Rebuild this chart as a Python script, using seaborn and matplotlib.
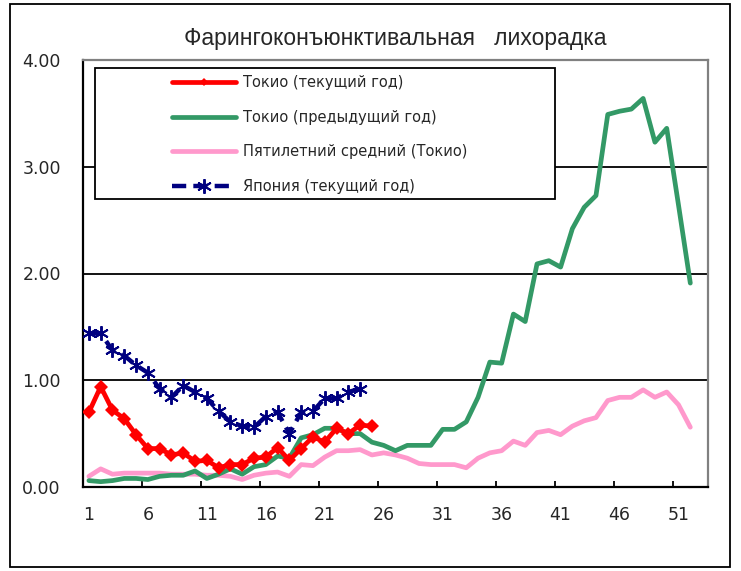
import numpy as np
import pandas as pd
import seaborn as sns
import matplotlib.pyplot as plt
from matplotlib.patches import Rectangle

# weekly values per sentinel site
weeks_all = list(range(1, 53))
tokyo_now = [0.70, 0.94, 0.72, 0.64, 0.49, 0.36, 0.36, 0.30, 0.32, 0.24,
             0.25, 0.18, 0.21, 0.21, 0.27, 0.28, 0.37, 0.25, 0.36, 0.47,
             0.42, 0.55, 0.50, 0.58, 0.57]
tokyo_prev = [0.06, 0.05, 0.06, 0.08, 0.08, 0.07, 0.10, 0.11, 0.11, 0.15,
              0.08, 0.12, 0.17, 0.12, 0.19, 0.21, 0.29, 0.27, 0.46, 0.49,
              0.55, 0.55, 0.50, 0.50, 0.42, 0.39, 0.34, 0.39, 0.39, 0.39,
              0.54, 0.54, 0.61, 0.84, 1.17, 1.16, 1.62, 1.55, 2.09, 2.12,
              2.06, 2.42, 2.62, 2.73, 3.49, 3.52, 3.54, 3.64, 3.23, 3.36,
              2.64, 1.91]
five_year = [0.10, 0.17, 0.12, 0.13, 0.13, 0.13, 0.13, 0.12, 0.12, 0.12,
             0.11, 0.11, 0.10, 0.07, 0.11, 0.13, 0.14, 0.10, 0.21, 0.20,
             0.28, 0.34, 0.34, 0.35, 0.30, 0.32, 0.30, 0.27, 0.22, 0.21,
             0.21, 0.21, 0.18, 0.27, 0.32, 0.34, 0.43, 0.39, 0.51, 0.53,
             0.49, 0.57, 0.62, 0.65, 0.81, 0.84, 0.84, 0.91, 0.84, 0.89,
             0.77, 0.56]
japan_now = [1.44, 1.44, 1.28, 1.23, 1.14, 1.07, 0.92, 0.84, 0.95, 0.89,
             0.83, 0.71, 0.61, 0.57, 0.56, 0.66, 0.70, 0.50, 0.70, 0.71,
             0.83, 0.83, 0.89, 0.92]

labels = ['Токио (текущий год)', 'Токио (предыдущий год)',
          'Пятилетний средний (Токио)', 'Япония (текущий год)']
x_labels = [str(w) for w in range(1, 52, 5)]

sns.set_style('white')
plt.rcParams['font.family'] = ['DejaVu Sans']

fig = plt.figure(figsize=(7.41, 5.71), dpi=100)
ax = fig.add_axes([83 / 741, 84 / 571, 625 / 741, 427 / 571])

# outer chart border
fig.patches.append(Rectangle((10 / 741, 4 / 571), 720 / 741, 563 / 571,
                             transform=fig.transFigure, fill=False,
                             edgecolor='black', linewidth=1.3))

sns.lineplot(x=weeks_all, y=five_year, color='#FF99CC', linewidth=3.4,
             label=labels[2], ax=ax, zorder=3)
sns.lineplot(x=weeks_all, y=tokyo_prev, color='#339966', linewidth=3.4,
             label=labels[1], ax=ax, zorder=4)
sns.lineplot(x=weeks_all[:len(tokyo_now)], y=tokyo_now, color='#FF0000',
             linewidth=3.4, marker='D', markersize=7, markeredgewidth=0,
             label=labels[0], ax=ax, zorder=5)
sns.lineplot(x=weeks_all[:len(japan_now)], y=japan_now, color='#000080',
             linewidth=3.2, linestyle=(0, (3.2, 1.6)), marker=(6, 2, 0),
             markersize=10.5, markeredgewidth=1.4, markeredgecolor='#000080',
             label=labels[3], ax=ax, zorder=6)

for yv in [1, 2, 3]:
    ax.axhline(yv, color='black', linewidth=1.3, zorder=1)

ax.set_xlim(0.5, 53.5)
ax.set_ylim(0, 4)
ax.set_yticks([0, 1, 2, 3, 4])
ax.set_yticklabels(['0.00', '1.00', '2.00', '3.00', '4.00'])
ax.set_xticks(list(range(1, 52, 5)))
ax.set_xticklabels(x_labels)
ax.set_xticks(np.arange(5.5, 51, 5), minor=True)
ax.tick_params(axis='x', which='major', length=0, pad=14, labelsize=12.5)
ax.tick_params(axis='x', which='minor', length=4, width=1.3, direction='in',
               color='black', bottom=True)
ax.tick_params(axis='y', length=0, pad=16, labelsize=12.5)
ax.set_xlabel('')
ax.set_ylabel('')

for side in ['left', 'bottom']:
    ax.spines[side].set_color('black')
    ax.spines[side].set_linewidth(1.6)
for side in ['top', 'right']:
    ax.spines[side].set_color('#808080')
    ax.spines[side].set_linewidth(1.6)

# legend box
ax.add_patch(Rectangle((12 / 625, 288 / 427), 460 / 625, 131 / 427,
                       transform=ax.transAxes, facecolor='white',
                       edgecolor='black', linewidth=1.3, zorder=7))
handles, labs = ax.get_legend_handles_labels()
order = [labs.index(l) for l in labels]
leg = ax.legend([handles[i] for i in order], [labs[i] for i in order],
                loc='upper left', bbox_to_anchor=(89 / 625, 412 / 427),
                frameon=False, borderpad=0, borderaxespad=0, numpoints=1,
                handlelength=4.4, handletextpad=0.45, labelspacing=1.35,
                fontsize=10.5)
leg.set_zorder(8)
leg.get_lines()[0].set_markersize(4)

fig.text(395 / 741, 1 - 38 / 571, 'Фарингоконъюнктивальная   лихорадка',
         ha='center', va='center', fontsize=16.5, family='Liberation Sans')

fig.savefig('out.png', dpi=100)
